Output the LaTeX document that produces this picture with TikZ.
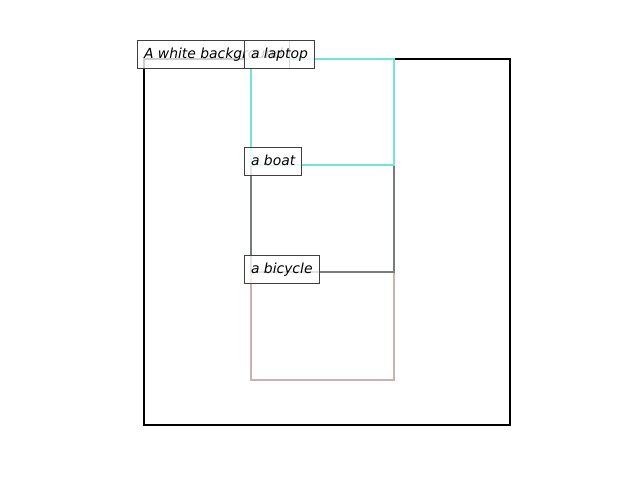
\documentclass[tikz,border=0pt]{standalone}
\usepackage{fontspec}
\setmainfont{DejaVu Sans}
\definecolor{cyanbox}{HTML}{6FE6D8}
\definecolor{graybox}{HTML}{767B7B}
\definecolor{pinkbox}{HTML}{D0B0AE}
\definecolor{lblborder}{HTML}{3F3F3F}
\begin{document}
\begin{tikzpicture}[x=1pt,y=-1pt,
  bbox/.style={line width=2.4pt},
  lbl/.style={draw=lblborder, line width=1pt, fill=white, fill opacity=0.8, text opacity=1,
    anchor=west, inner xsep=6.5pt, inner ysep=0pt, minimum height=28pt,
    text height=11.5pt, text depth=2pt, font=\fontsize{13.9}{16}\selectfont\itshape}]
\useasboundingbox (0,0) rectangle (640,480);
\draw[bbox, black] (144,59) rectangle (510,425);
\draw[bbox, pinkbox] (251,272) rectangle (394,380);
\draw[bbox, graybox] (251,165) rectangle (394,272);
\draw[bbox, cyanbox] (251,59) rectangle (394,165);
\node[lbl] (bg) at (137,54) {A white background};
\node[lbl] (laptop) at (244,54) {a laptop};
\node[lbl] (boat) at (244,161) {a boat};
\node[lbl] (bicycle) at (244,269) {a bicycle};
\end{tikzpicture}
\end{document}
